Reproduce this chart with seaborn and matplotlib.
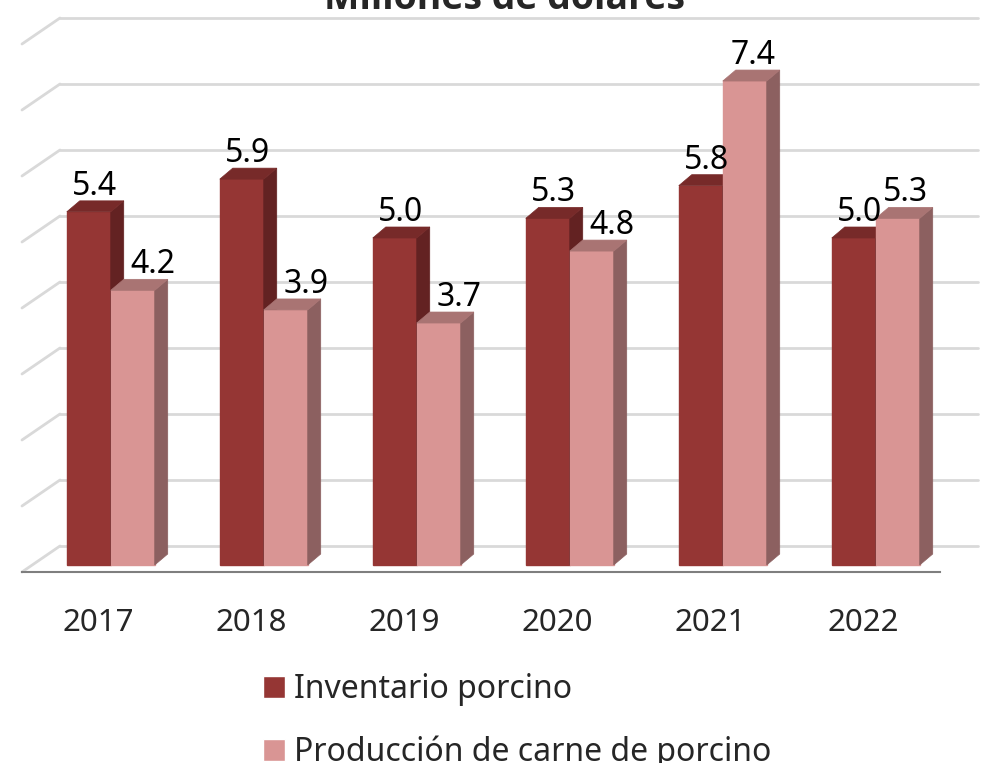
import numpy as np
import pandas as pd
import matplotlib
matplotlib.use("Agg")
import matplotlib.pyplot as plt
from matplotlib.patches import Polygon, Patch
import seaborn as sns

# datos del gráfico
anios = ["2017", "2018", "2019", "2020", "2021", "2022"]
inventario = [5.4, 5.9, 5.0, 5.3, 5.8, 5.0]
produccion = [4.2, 3.9, 3.7, 4.8, 7.4, 5.3]
series = ["Inventario porcino", "Producción de carne de porcino"]
titulo = "Millones de dólares"

# colores (frente, tapa, lateral)
col_inv = ("#953634", "#772a29", "#632222")
col_prod = ("#d99594", "#a97473", "#8c6060")

sns.set_style("white")
plt.rcParams["font.family"] = ["Noto Sans", "DejaVu Sans"]

df = pd.DataFrame({
    "anio": anios * 2,
    "valor": inventario + produccion,
    "serie": [series[0]] * len(anios) + [series[1]] * len(anios),
})

W, H = 987, 763
fig = plt.figure(figsize=(W / 100, H / 100), dpi=100)
ax = fig.add_axes([22 / W, 1 - 572 / H, 918 / W, 572 / H])

px = 65.4  # pixeles por unidad
sns.barplot(data=df, x="anio", y="valor", hue="serie", palette=[col_inv[0], col_prod[0]],
            width=0.575, ax=ax, legend=False, saturation=1, errorbar=None)
ax.set_xlim(-0.5, 5.5)
ax.set_ylim(-7 / px, 565 / px)

# profundidad de barras y de la pared
bdx, bdy = 13 / 153, 11 / px
wdx, wdy = 38 / 153, 26 / px

# rejilla de pared trasera (3D)
for v in range(0, 9):
    yb = 19 / px + v * 66 / px
    ax.plot([-0.5 + wdx, 5.5 + wdx], [yb, yb], color="#d9d9d9", lw=2, zorder=0, clip_on=False)
    ax.plot([-0.5, -0.5 + wdx], [yb - wdy, yb], color="#d9d9d9", lw=2, zorder=0, clip_on=False)

# caras 3D de las barras
for k, (cont, cols) in enumerate(zip(ax.containers, [col_inv, col_prod])):
    for i, bar in enumerate(cont):
        bar.set_x(bar.get_x() + 0.08)
        bar.set_zorder(2 + k)
        bar.set_edgecolor(cols[0])
        x0, w, h = bar.get_x(), bar.get_width(), bar.get_height()
        top = Polygon([(x0, h), (x0 + w, h), (x0 + w + bdx, h + bdy), (x0 + bdx, h + bdy)],
                      closed=True, fc=cols[1], ec=cols[1], lw=0.5, zorder=2 + k)
        side = Polygon([(x0 + w, 0), (x0 + w + bdx, bdy), (x0 + w + bdx, h + bdy), (x0 + w, h)],
                       closed=True, fc=cols[2], ec=cols[2], lw=0.5, zorder=2 + k)
        ax.add_patch(side)
        ax.add_patch(top)
        if k == 0:
            nud = 6
        else:
            nud = 20 if inventario[i] > produccion[i] else 8
        ax.annotate(f"{h:.1f}", (x0 + w / 2, h), xytext=(nud * 0.72, 17 * 0.72),
                    textcoords="offset points", ha="center", va="baseline",
                    fontsize=23, color="black", zorder=5, annotation_clip=False)

# ejes
for s in ["top", "left", "right"]:
    ax.spines[s].set_visible(False)
ax.spines["bottom"].set_color("#7f7f7f")
ax.spines["bottom"].set_linewidth(1.5)
ax.set_yticks([])
ax.set_xlabel("")
ax.set_ylabel("")
ax.set_xticks(range(len(anios)))
ax.set_xticklabels(anios, fontsize=22.5)
ax.set_xticks(np.arange(-0.5, 6, 1), minor=True)
ax.tick_params(axis="x", which="major", length=0, pad=26)
ax.tick_params(axis="x", which="minor", length=8, width=1.5, color="#7f7f7f", direction="out")

fig.text(505 / W, 1 - 9 / H, titulo, ha="center", va="baseline", fontsize=27,
         weight="bold", family=["Open Sans", "Noto Sans", "DejaVu Sans"])

handles = [Patch(fc=col_inv[0]), Patch(fc=col_prod[0])]
fig.legend(handles, series, loc="upper left", bbox_to_anchor=(263 / W, 1 - 673 / H),
           frameon=False, fontsize=23, handlelength=0.68, handleheight=0.68,
           handletextpad=0.3, labelspacing=0.93, borderpad=0, borderaxespad=0)

fig.savefig("out.png", dpi=100)
